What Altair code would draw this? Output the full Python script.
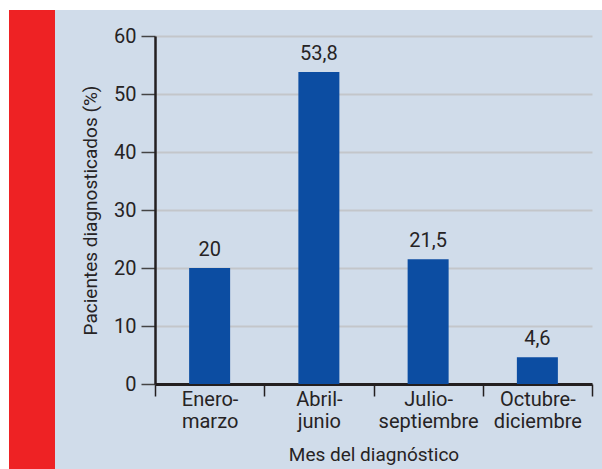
import altair as alt
import pandas as pd

# Percentage of patients diagnosed per quarter
periodos = ["Enero-marzo", "Abril-junio", "Julio-septiembre", "Octubre-diciembre"]
porcentajes = [20, 53.8, 21.5, 4.6]

y_ticks = [0, 10, 20, 30, 40, 50, 60]

FONT = "Roboto, sans-serif"
TEXT = "#262324"
AXIS = "#231f20"
BG = "#d0dcea"
RED = "#ee2224"
BAR = "#0c4da2"

df = pd.DataFrame({"periodo": periodos, "pct": porcentajes})

base = alt.Chart(df).encode(
    x=alt.X(
        "periodo:N",
        sort=periodos,
        scale=alt.Scale(paddingInner=0, paddingOuter=0),
        axis=alt.Axis(
            title="Mes del diagnóstico",
            labelAngle=0,
            labelExpr=(
                "datum.label == '' ? '' : "
                "[split(datum.label, '-')[0] + '-', split(datum.label, '-')[1]]"
            ),
            labelLineHeight=22,
            labelFontSize=20,
            tickBand="extent",
            tickSize=12,
            tickWidth=1.5,
            tickColor=AXIS,
            labelPadding=-7,
            titlePadding=14,
            domainWidth=3,
            domainColor=AXIS,
            grid=False,
        ),
    ),
    y=alt.Y(
        "pct:Q",
        scale=alt.Scale(domain=[0, 60], nice=False),
        axis=alt.Axis(
            title="Pacientes diagnosticados (%)",
            values=y_ticks,
            labelFontSize=20,
            tickSize=14,
            tickWidth=1.5,
            tickColor="#444444",
            labelPadding=5,
            titlePadding=13,
            domainWidth=2.5,
            domainColor=AXIS,
            grid=True,
            gridColor="#c3c6ca",
            gridWidth=2,
        ),
    ),
)

bars = base.mark_bar(size=41, color=BAR)

labels = base.transform_calculate(
    etiqueta="replace(format(datum.pct, '.1~f'), '.', ',')"
).mark_text(
    baseline="bottom", dy=-8, font=FONT, fontSize=20, color=TEXT
).encode(text="etiqueta:N")

# Decorative frame: white margin strips and red band on the left
deco = pd.DataFrame({"k": [0]})
white_top = alt.Chart(deco).mark_rect(color="white").encode(
    x=alt.value(-160), x2=alt.value(460), y=alt.value(-40), y2=alt.value(-26)
)
white_left = alt.Chart(deco).mark_rect(color="white").encode(
    x=alt.value(-160), x2=alt.value(-146), y=alt.value(-40), y2=alt.value(440)
)
red_band = alt.Chart(deco).mark_rect(color=RED).encode(
    x=alt.value(-146), x2=alt.value(-100), y=alt.value(-26), y2=alt.value(440)
)

chart = alt.layer(white_top, white_left, red_band, bars, labels).properties(
    width=437,
    height=348,
    autosize=alt.AutoSizeParams(type="none"),
    padding={"left": 155, "top": 36, "right": 10, "bottom": 85},
    background=BG,
).configure_view(
    stroke=None,
).configure_axis(
    labelFont=FONT,
    labelColor=TEXT,
    titleFont=FONT,
    titleFontSize=19,
    titleFontWeight="normal",
    titleColor=TEXT,
)

chart.save("out.html", embed_options={"renderer": "svg", "actions": False})
